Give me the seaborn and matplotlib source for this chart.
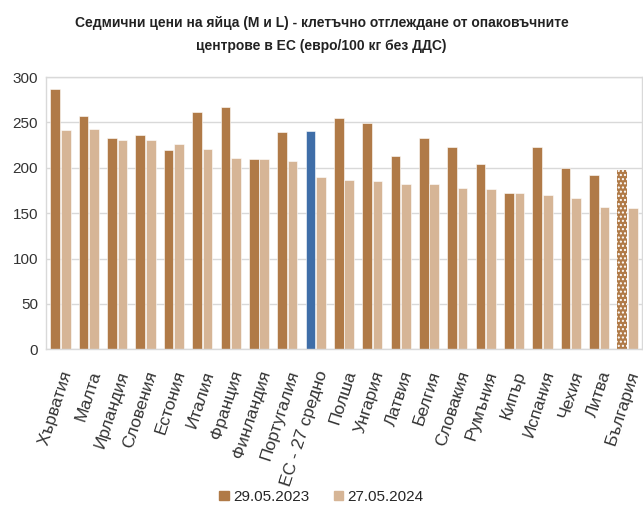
import pandas as pd
import matplotlib.pyplot as plt
import seaborn as sns

# Data
countries = ["Хърватия", "Малта", "Ирландия", "Словения", "Естония", "Италия",
             "Франция", "Финландия", "Португалия", "ЕС - 27 средно", "Полша",
             "Унгария", "Латвия", "Белгия", "Словакия", "Румъния", "Кипър",
             "Испания", "Чехия", "Литва", "България"]
prices_2023 = [287, 257, 233, 236, 220, 262, 267, 210, 239, 241, 255,
               249, 213, 233, 223, 204, 172, 223, 200, 192, 198]
prices_2024 = [242, 243, 231, 231, 226, 221, 211, 210, 208, 190, 187,
               185, 182, 182, 178, 177, 172, 170, 167, 157, 156]
dates = ["29.05.2023", "27.05.2024"]

dark = "#B07A47"
light = "#D6B596"
blue = "#3F6EA8"

df = pd.DataFrame({
    "country": countries * 2,
    "price": prices_2023 + prices_2024,
    "date": [dates[0]] * len(countries) + [dates[1]] * len(countries),
})

sns.set_style("white")
plt.rcParams["font.family"] = ["Liberation Sans", "DejaVu Sans"]

fig = plt.figure(figsize=(6.43, 5.07), dpi=100)
ax = fig.add_axes([0.072, 0.311, 0.926, 0.537])

sns.barplot(data=df, x="country", y="price", hue="date", palette=[dark, light],
            saturation=1, width=0.74, gap=0.08, ax=ax, legend=False)

for bar in ax.patches:
    bar.set_edgecolor("white")
    bar.set_linewidth(0.4)

# highlight EU average and hatch Bulgaria
dark_bars = ax.containers[0]
dark_bars[9].set_facecolor(blue)
bg = dark_bars[20]
bg.set_facecolor(dark)
bg.set_edgecolor("white")
bg.set_hatch("....")
bg.set_linewidth(0)

ax.set_ylim(0, 300)
ax.set_xlim(-0.5, len(countries) - 0.5)
ax.set_yticks(range(0, 301, 50))
ax.yaxis.grid(True, color="#d9d9d9", linewidth=1)
ax.set_axisbelow(True)
for s in ax.spines.values():
    s.set_color("#d9d9d9")
    s.set_linewidth(1)
ax.tick_params(axis="y", length=0, labelsize=11, colors="#333333", pad=6)
ax.tick_params(axis="x", length=0, labelsize=12.5, colors="#333333", pad=14)
plt.setp(ax.get_xticklabels(), rotation=72, ha="right", rotation_mode="anchor")
ax.set_xlabel("")
ax.set_ylabel("")

fig.text(0.5, 0.955, "Седмични цени на яйца (M и L) - клетъчно отглеждане от опаковъчните",
         ha="center", va="center", fontsize=10, fontweight="bold", color="#222222")
fig.text(0.5, 0.91, "центрове в ЕС (евро/100 кг без ДДС)",
         ha="center", va="center", fontsize=10, fontweight="bold", color="#222222")

handles = [plt.Rectangle((0, 0), 1, 1, color=dark), plt.Rectangle((0, 0), 1, 1, color=light)]
fig.legend(handles, dates, loc="center", bbox_to_anchor=(0.5, 0.02), ncol=2, frameon=False,
           fontsize=11, handlelength=0.6, handleheight=0.6, handletextpad=0.3,
           columnspacing=1.6)

plt.savefig("out.png", dpi=100)
